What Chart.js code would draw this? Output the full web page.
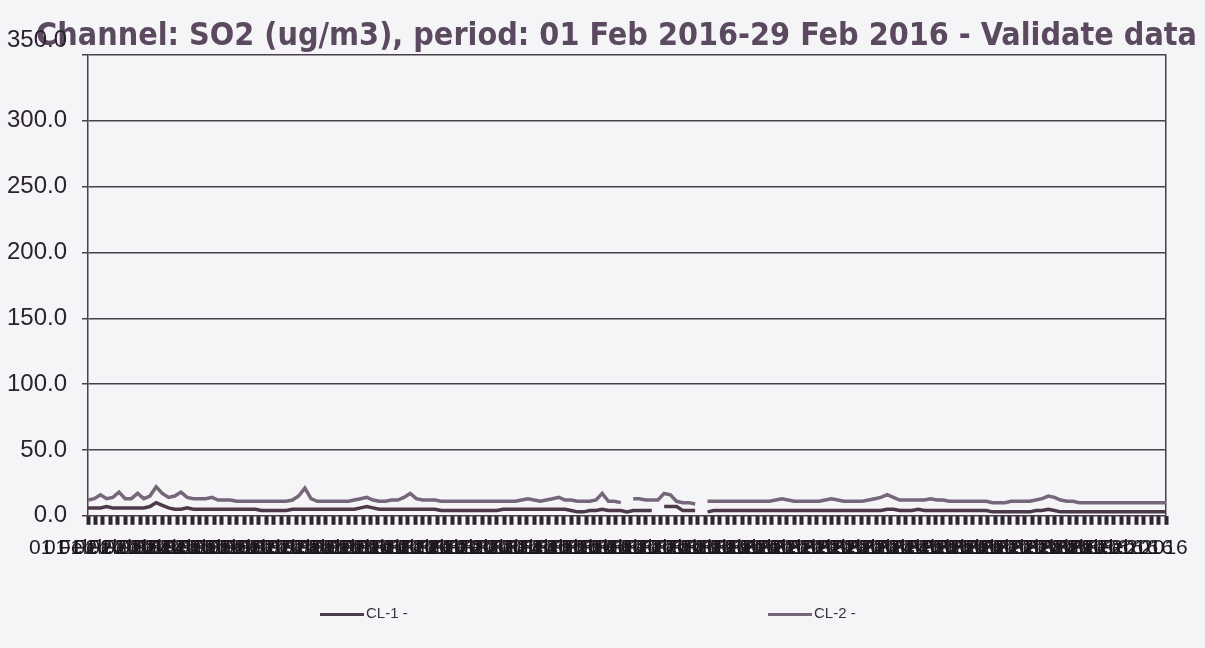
<!DOCTYPE html>
<html>
<head>
<meta charset="utf-8">
<script src="https://cdn.jsdelivr.net/npm/chart.js@4.4.1/dist/chart.umd.min.js"></script>
<style>
   html, body { margin: 0; padding: 0; background: #f5f5f8; }
   #wrap { position: relative; width: 1205px; height: 648px; }
   .legend-item { position: absolute; top: 604px; font: 15px "Liberation Sans", Arial, sans-serif; color: #3b3040; white-space: nowrap; }
   .legend-line { display: inline-block; width: 44px; height: 3px; vertical-align: middle; margin-right: 2px; }
</style>
</head>
<body>
<div id="wrap">
   <canvas id="so2Chart" width="1205" height="648"></canvas>
   <div id="legend"></div>
</div>
<script>
"use strict";

// one value every 4 hours, 01 Feb 2016 00:00 .. 01 Mar 2016 00:00
const stepHours = 4;
const cl1Values = [
   6, 6, 6, 7, 6, 6, 6, 6, 6, 6, 7, 10, 8, 6, 5, 5, 6, 5, 5, 5, 5, 5, 5, 5, 5,
   5, 5, 5, 4, 4, 4, 4, 4, 5, 5, 5, 5, 5, 5, 5, 5, 5, 5, 5, 6, 7, 6, 5, 5, 5,
   5, 5, 5, 5, 5, 5, 5, 4, 4, 4, 4, 4, 4, 4, 4, 4, 4, 5, 5, 5, 5, 5, 5, 5, 5,
   5, 5, 5, 4, 3, 3, 4, 4, 5, 4, 4, 4, 3, 4, 4, 4, 4, null, 7, 7, 7, 4, 4, 4, null,
   3, 4, 4, 4, 4, 4, 4, 4, 4, 4, 4, 4, 4, 4, 4, 4, 4, 4, 4, 4, 4, 4, 4, 4, 4,
   4, 4, 4, 4, 5, 5, 4, 4, 4, 5, 4, 4, 4, 4, 4, 4, 4, 4, 4, 4, 4, 3, 3, 3, 3,
   3, 3, 3, 4, 4, 5, 4, 3, 3, 3, 3, 3, 3, 3, 3, 3, 3, 3, 3, 3, 3, 3, 3, 3, 3
];
const cl2Values = [
   12, 13, 16, 13, 14, 18, 13, 13, 17, 13, 15, 22, 17, 14, 15, 18, 14, 13, 13, 13, 14, 12, 12, 12, 11,
   11, 11, 11, 11, 11, 11, 11, 11, 12, 15, 21, 13, 11, 11, 11, 11, 11, 11, 12, 13, 14, 12, 11, 11, 12,
   12, 14, 17, 13, 12, 12, 12, 11, 11, 11, 11, 11, 11, 11, 11, 11, 11, 11, 11, 11, 12, 13, 12, 11, 12,
   13, 14, 12, 12, 11, 11, 11, 12, 17, 11, 11, 10, null, 13, 13, 12, 12, 12, 17, 16, 11, 10, 10, 9, null,
   11, 11, 11, 11, 11, 11, 11, 11, 11, 11, 11, 12, 13, 12, 11, 11, 11, 11, 11, 12, 13, 12, 11, 11, 11,
   11, 12, 13, 14, 16, 14, 12, 12, 12, 12, 12, 13, 12, 12, 11, 11, 11, 11, 11, 11, 11, 10, 10, 10, 11,
   11, 11, 11, 12, 13, 15, 14, 12, 11, 11, 10, 10, 10, 10, 10, 10, 10, 10, 10, 10, 10, 10, 10, 10, 10
];

const dayLabels = [];
for (let d = 1; d <= 29; d++) {
   dayLabels.push(String(d).padStart(2, "0") + " Feb 2016");
}
dayLabels.push("01 Mar 2016");

const legendLeft = [320, 768];

const inkColor = "#2e2430";
const gridColor = "#4a3f4c";

function toPoints(values) {
   return values.map((v, i) => ({ x: i * stepHours, y: v }));
}

const ctx = document.getElementById("so2Chart").getContext("2d");
const so2Chart = new Chart(ctx, {
   type: "line",
   data: {
      datasets: [
         {
            label: "CL-1 -",
            data: toPoints(cl1Values),
            borderColor: "#4c3a4b",
            backgroundColor: "#4c3a4b",
            borderWidth: 3.5,
            pointRadius: 0,
            tension: 0,
         },
         {
            label: "CL-2 -",
            data: toPoints(cl2Values),
            borderColor: "#76667a",
            backgroundColor: "#76667a",
            borderWidth: 3.5,
            pointRadius: 0,
            tension: 0,
         },
      ],
   },
   options: {
      responsive: false,
      animation: false,
      layout: { padding: { left: 7, right: 8, top: 0, bottom: 76 } },
      plugins: {
         legend: { display: false },
         tooltip: { enabled: false },
         title: {
            display: true,
            text: "Channel: SO2 (ug/m3), period: 01 Feb 2016-29 Feb 2016 - Validate data",
            align: "end",
            color: "#5b4a5f",
            font: { family: '"DejaVu Sans Condensed", "DejaVu Sans", sans-serif', size: 32, weight: "bold" },
            padding: { top: 17, bottom: -0.4 },
         },
      },
      scales: {
         x: {
            type: "linear",
            min: 0,
            max: 696,
            border: { display: false },
            grid: { drawOnChartArea: false, tickLength: 9, tickWidth: 4, tickColor: inkColor },
            ticks: {
               stepSize: 4.8,
               autoSkip: false,
               maxRotation: 0,
               minRotation: 0,
               padding: 11,
               color: "#1f1820",
               font: { family: '"Liberation Sans", Arial, sans-serif', size: 21 },
               callback: (value, index) => {
                  if (index % 2 !== 0 || index > 140) return "";
                  return dayLabels[Math.floor(value / 24 + 1e-6)];
               },
            },
         },
         y: {
            min: 0,
            max: 350,
            border: { color: gridColor, width: 1.5 },
            grid: { color: gridColor, lineWidth: 1.5, tickLength: 6 },
            afterFit: (scale) => { scale.width = 81; },
            ticks: {
               stepSize: 50,
               padding: 15,
               color: "#2b2230",
               font: { family: '"Liberation Sans", Arial, sans-serif', size: 24 },
               callback: (v) => (v === 350 ? ["350.0", ""] : v.toFixed(1)),
            },
         },
         y2: {
            position: "right",
            min: 0,
            max: 350,
            grid: { display: false },
            ticks: { display: false },
            border: { display: true, color: gridColor, width: 1.5 },
            afterFit: (scale) => { scale.width = 31; },
         },
      },
   },
});

// html legend, items spread wide like the original print
const legendBox = document.getElementById("legend");
so2Chart.data.datasets.forEach((ds, i) => {
   const item = document.createElement("div");
   item.className = "legend-item";
   item.style.left = legendLeft[i] + "px";
   const line = document.createElement("span");
   line.className = "legend-line";
   line.style.background = ds.borderColor;
   item.appendChild(line);
   item.appendChild(document.createTextNode(ds.label));
   legendBox.appendChild(item);
});
</script>
</body>
</html>
